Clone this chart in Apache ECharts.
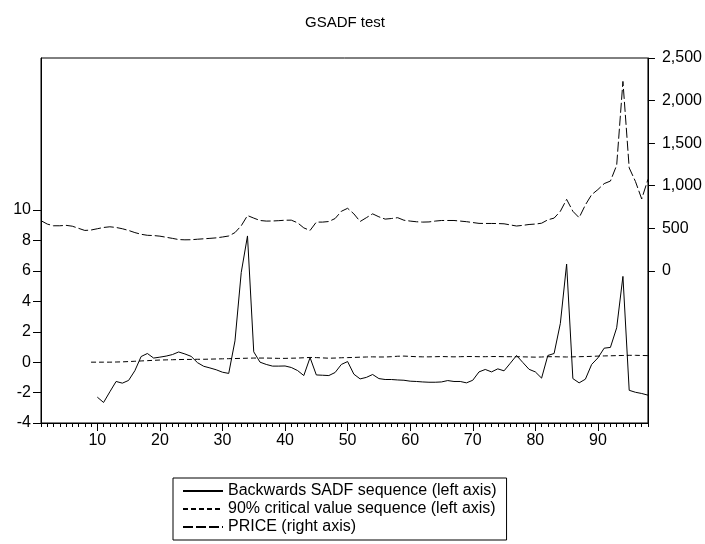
<!DOCTYPE html>
<html style="height: 100%">
  <head>
    <meta charset="utf-8" />
    <title>GSADF test</title>
    <script src="https://cdn.jsdelivr.net/npm/echarts@6/dist/echarts.min.js"></script>
  </head>
  <body style="height: 100%; margin: 0; background: #fff">
    <div id="main" style="width: 705px; height: 544px"></div>
    <script type="text/javascript">
      // observations 1..98
      var cats = [];
      for (var k = 1; k <= 98; k++) cats.push(String(k));

      // Backwards SADF sequence, obs 10..98 (left axis)
      var sadf = [
        -2.3, -2.65, -1.95, -1.27, -1.38, -1.2, -0.56, 0.37, 0.57, 0.27,
        0.33, 0.4, 0.5, 0.67, 0.54, 0.38, -0.03, -0.27, -0.38, -0.5,
        -0.66, -0.74, 1.4, 5.9, 8.3, 0.68, 0.0, -0.15, -0.26, -0.26,
        -0.25, -0.35, -0.55, -0.88, 0.3, -0.84, -0.86, -0.88, -0.68, -0.15,
        0.04, -0.79, -1.1, -1.0, -0.81, -1.08, -1.14, -1.14, -1.17, -1.19,
        -1.25, -1.27, -1.3, -1.32, -1.32, -1.3, -1.21, -1.27, -1.27, -1.36,
        -1.19, -0.64, -0.48, -0.64, -0.44, -0.57, -0.07, 0.44, -0.02, -0.47,
        -0.64, -1.05, 0.44, 0.57, 2.55, 6.45, -1.08, -1.36, -1.12, -0.15,
        0.28, 0.92, 0.97, 2.26, 5.64, -1.85, -1.98, -2.06, -2.17
      ];

      // 90% critical value sequence, obs 9..98 (left axis)
      var crit = [
        0.0,
        0.0, 0.0, 0.0, 0.01, 0.02, 0.04, 0.06, 0.08, 0.1, 0.12,
        0.14, 0.15, 0.16, 0.17, 0.18, 0.18, 0.19, 0.19, 0.2, 0.21,
        0.22, 0.23, 0.24, 0.25, 0.26, 0.27, 0.27, 0.27, 0.26, 0.25,
        0.25, 0.26, 0.27, 0.29, 0.31, 0.3, 0.28, 0.26, 0.27, 0.29,
        0.3, 0.31, 0.33, 0.34, 0.35, 0.34, 0.34, 0.36, 0.39, 0.4,
        0.38, 0.36, 0.35, 0.35, 0.36, 0.37, 0.36, 0.35, 0.36, 0.37,
        0.37, 0.36, 0.36, 0.37, 0.37, 0.36, 0.36, 0.36, 0.35, 0.34,
        0.33, 0.34, 0.36, 0.36, 0.35, 0.34, 0.35, 0.36, 0.37, 0.38,
        0.4, 0.41, 0.42, 0.43, 0.44, 0.45, 0.45, 0.44, 0.43
      ];

      // PRICE, obs 1..98 (right axis)
      var price = [
        590, 550, 530, 530, 535, 525, 500, 475, 480, 495,
        510, 518, 510, 495, 475, 450, 430, 418, 415, 408,
        395, 382, 368, 365, 366, 372, 377, 382, 388, 398,
        410, 450, 530, 650, 620, 592, 585, 586, 590, 595,
        596, 565, 505, 475, 573, 573, 580, 615, 700, 735,
        670, 580, 625, 670, 635, 608, 615, 625, 595, 585,
        577, 573, 575, 585, 592, 592, 592, 585, 578, 568,
        558, 557, 557, 556, 553, 540, 527, 535, 545, 550,
        560, 600, 620, 700, 840, 700, 625, 775, 895, 955,
        1025, 1055, 1240, 2225, 1210, 1050, 845, 1075
      ];

      var leftTicks = [-4, -2, 0, 2, 4, 6, 8, 10];
      var rightTicks = [0, 500, 1000, 1500, 2000, 2500];

      function pad(n, arr) {
        var out = [];
        for (var j = 0; j < n; j++) out.push(null);
        return out.concat(arr);
      }

      function everyTen(i, v) {
        return Number(v) % 10 === 0;
      }

      var font = "'Liberation Sans', Arial, sans-serif";
      var myChart = echarts.init(document.getElementById("main"));

      var option = {
        animation: false,
        backgroundColor: "#fff",
        title: {
          text: "GSADF test",
          left: 345,
          textAlign: "center",
          top: 15,
          padding: 0,
          textStyle: { fontFamily: font, fontSize: 15, fontWeight: "normal", color: "#000" },
        },
        grid: {
          left: 41,
          right: 57,
          top: 58,
          bottom: 121,
          show: true,
          borderColor: "#000",
          borderWidth: 1,
        },
        legend: {
          orient: "vertical",
          left: 173,
          top: 478,
          padding: [5, 10, 5, 9],
          borderColor: "#000",
          borderWidth: 1,
          itemWidth: 40,
          itemHeight: 10,
          itemGap: 2,
          itemStyle: { opacity: 0 },
          textStyle: { fontFamily: font, fontSize: 16, color: "#000", lineHeight: 16 },
          data: [
            "Backwards SADF sequence (left axis)",
            "90% critical value sequence (left axis)",
            "PRICE (right axis)",
          ],
        },
        xAxis: [
          {
            type: "category",
            data: cats,
            boundaryGap: false,
            axisLine: { onZero: false, lineStyle: { color: "#000", width: 1 } },
            axisTick: { interval: 0, length: 4, lineStyle: { color: "#000" } },
            axisLabel: {
              interval: everyTen,
              margin: 10,
              fontFamily: font,
              fontSize: 16,
              color: "#000",
            },
            splitLine: { show: false },
          },
          {
            type: "category",
            data: cats,
            boundaryGap: false,
            position: "bottom",
            axisLine: { show: false, onZero: false },
            axisTick: { interval: everyTen, length: 8, lineStyle: { color: "#000" } },
            axisLabel: { show: false },
            splitLine: { show: false },
          },
        ],
        yAxis: [
          {
            type: "value",
            min: -4,
            max: 20,
            position: "left",
            axisLine: { show: true, lineStyle: { color: "#000" } },
            axisTick: { show: true, length: 8, customValues: leftTicks, lineStyle: { color: "#000" } },
            axisLabel: { customValues: leftTicks, margin: 10, fontFamily: font, fontSize: 16, color: "#000" },
            splitLine: { show: false },
          },
          {
            type: "value",
            min: -1786,
            max: 2500,
            position: "right",
            axisLine: { show: true, lineStyle: { color: "#000" } },
            axisTick: { show: true, length: 7, customValues: rightTicks, lineStyle: { color: "#000" } },
            axisLabel: {
              customValues: rightTicks,
              margin: 14,
              fontFamily: font,
              fontSize: 16,
              color: "#000",
              formatter: function (v) {
                return v.toLocaleString("en-US");
              },
            },
            splitLine: { show: false },
          },
        ],
        series: [
          {
            name: "Backwards SADF sequence (left axis)",
            type: "line",
            yAxisIndex: 0,
            symbol: "none",
            data: pad(9, sadf),
            lineStyle: { color: "#000", width: 1 },
            itemStyle: { color: "#000" },
          },
          {
            name: "90% critical value sequence (left axis)",
            type: "line",
            yAxisIndex: 0,
            symbol: "none",
            data: pad(8, crit),
            lineStyle: { color: "#000", width: 1, type: [5, 3] },
            itemStyle: { color: "#000" },
          },
          {
            name: "PRICE (right axis)",
            type: "line",
            yAxisIndex: 1,
            symbol: "none",
            data: price,
            lineStyle: { color: "#000", width: 1, type: [10, 3] },
            itemStyle: { color: "#000" },
          },
        ],
      };

      myChart.setOption(option);
    </script>
  </body>
</html>
